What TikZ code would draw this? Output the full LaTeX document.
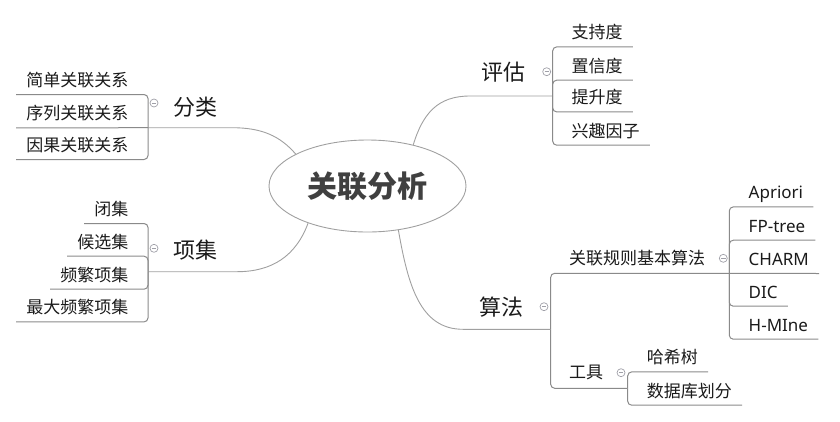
\documentclass[tikz,border=0pt]{standalone}
\usepackage{tikz}
\usepackage{fontspec}
\setmainfont{Noto Sans CJK SC}
\newfontfamily\lat{Noto Sans}
\usetikzlibrary{shapes.geometric}
\definecolor{linegray}{HTML}{8A8A8A}
\definecolor{curvegray}{HTML}{A0A0A0}
\definecolor{togglegray}{HTML}{A0A0A8}
\definecolor{darktext}{HTML}{404040}
\definecolor{itemtext}{HTML}{1A1A1A}
\begin{document}
\begin{tikzpicture}[x=1pt,y=-1pt,
  line/.style={draw=linegray, line width=1pt, rounded corners=4pt},
  curve/.style={draw=curvegray, line width=0.9pt},
  item/.style={font=\fontsize{17}{17}\selectfont, text=itemtext, inner xsep=10pt, inner ysep=0pt, text height=13pt, text depth=0pt, minimum height=29pt},
  sub/.style={font=\fontsize{17}{17}\selectfont, text=itemtext, inner sep=0pt, text height=13pt, text depth=0pt},
  branch/.style={font=\fontsize{22}{22}\selectfont, text=itemtext, inner sep=0pt, text height=16.7pt, text depth=0pt},
  toggle/.style={circle, draw=togglegray, line width=0.7pt, minimum size=8pt, inner sep=0pt,
    path picture={\draw[togglegray, line width=0.7pt] ([xshift=-2.2pt]path picture bounding box.center) -- ([xshift=2.2pt]path picture bounding box.center);}}
]
\useasboundingbox (0,0) rectangle (840,421);

% central topic
\node[draw=curvegray, line width=0.9pt, ellipse, minimum width=197pt, minimum height=92pt, inner sep=0pt,
  font=\fontsize{30}{30}\selectfont\bfseries, text=darktext, text height=22.8pt, text depth=0pt] (root) at (367.5,186) {关联分析};

% branch labels
\node[branch] (fenlei) at (195.5,106.7) {分类};
\node[branch] (xiangji) at (195.7,250) {项集};
\node[branch] (pinggu) at (503,71.7) {评估};
\node[branch] (suanfa) at (501,307.3) {算法};

% junction coordinates
\coordinate (jf) at (148,127.7);
\coordinate (jx) at (148,271.7);
\coordinate (jp) at (552.7,96);
\coordinate (js) at (550.7,329.3);
\coordinate (rrj) at (729.3,273.3);
\coordinate (toolj) at (627.7,388.3);

% main curves
\draw[curve] (root.156.7) .. controls (280,136) and (262,127.7) .. (232,127.7) -- (jf);
\draw[curve] (root.212) .. controls (296,256) and (272,271.7) .. (237,271.7) -- (jx);
\draw[curve] (root.42) .. controls (423,113) and (438,96) .. (470,96) -- (jp);
\draw[curve] (root.305) .. controls (408,285) and (420,329.3) .. (463,329.3) -- (js);

% 分类 children
\node[item, anchor=east] (c11) at (138.5,79.8) {简单关联关系};
\node[item, anchor=east] (c12) at (138.5,113.2) {序列关联关系};
\node[item, anchor=east] (c13) at (138.5,144.8) {因果关联关系};
\draw[line] (jf) |- (c11.south west);
\draw[line] (jf) -- (c12.south west);
\draw[line] (jf) |- (c13.south west);

% 项集 children
\node[item, anchor=east] (c21) at (138.5,208.8) {闭集};
\node[item, anchor=east] (c22) at (138.5,241.5) {候选集};
\node[item, anchor=east] (c23) at (138.5,274.5) {频繁项集};
\node[item, anchor=east] (c24) at (138.5,307.2) {最大频繁项集};
\draw[line] (jx) |- (c21.south west);
\draw[line] (jx) |- (c22.south west);
\draw[line] (jx) |- (c23.south west);
\draw[line] (jx) |- (c24.south west);

% 评估 children
\node[item, anchor=west] (c31) at (561.5,32.2) {支持度};
\node[item, anchor=west] (c32) at (561.5,65.5) {置信度};
\node[item, anchor=west] (c33) at (561.5,97.2) {提升度};
\node[item, anchor=west] (c34) at (561.5,130.5) {兴趣因子};
\draw[line] (jp) |- (c31.south east);
\draw[line] (jp) |- (c32.south east);
\draw[line] (jp) |- (c33.south east);
\draw[line] (jp) |- (c34.south east);

% 算法 children
\node[sub, anchor=west] (rr) at (569,258.3) {关联规则基本算法};
\node[sub, anchor=west] (tool) at (569,371.7) {工具};
\draw[line] (js) |- (rrj);
\draw[line] (js) |- (toolj);

% 关联规则基本算法 children
\node[item, anchor=west, font=\fontsize{17}{17}\selectfont\lat] (a1) at (738.5,192.2) {Apriori};
\node[item, anchor=west, font=\fontsize{17}{17}\selectfont\lat] (a2) at (738.5,225.5) {FP-tree};
\node[item, anchor=west, font=\fontsize{17}{17}\selectfont\lat] (a3) at (738.5,258.8) {CHARM};
\node[item, anchor=west, font=\fontsize{17}{17}\selectfont\lat] (a4) at (738.5,291.5) {DIC};
\node[item, anchor=west, font=\fontsize{17}{17}\selectfont\lat] (a5) at (738.5,324.5) {H-MIne};
\draw[line] (rrj) |- (a1.south east);
\draw[line] (rrj) |- (a2.south east);
\draw[line] (rrj) -- (a3.south east);
\draw[line] (rrj) |- (a4.south east);
\draw[line] (rrj) |- (a5.south east);

% 工具 children
\node[item, anchor=west] (t1c) at (636.7,357.2) {哈希树};
\node[item, anchor=west] (t2c) at (636.7,390.5) {数据库划分};
\draw[line] (toolj) |- (t1c.south east);
\draw[line] (toolj) |- (t2c.south east);

% collapse toggles
\node[toggle] (tg1) at (154,103) {};
\node[toggle] (tg2) at (154,248.3) {};
\node[toggle] (tg3) at (546.7,71.7) {};
\node[toggle] (tg4) at (544,306.7) {};
\node[toggle] (tg5) at (723.3,258.3) {};
\node[toggle] (tg6) at (621,372.7) {};
\end{tikzpicture}
\end{document}
